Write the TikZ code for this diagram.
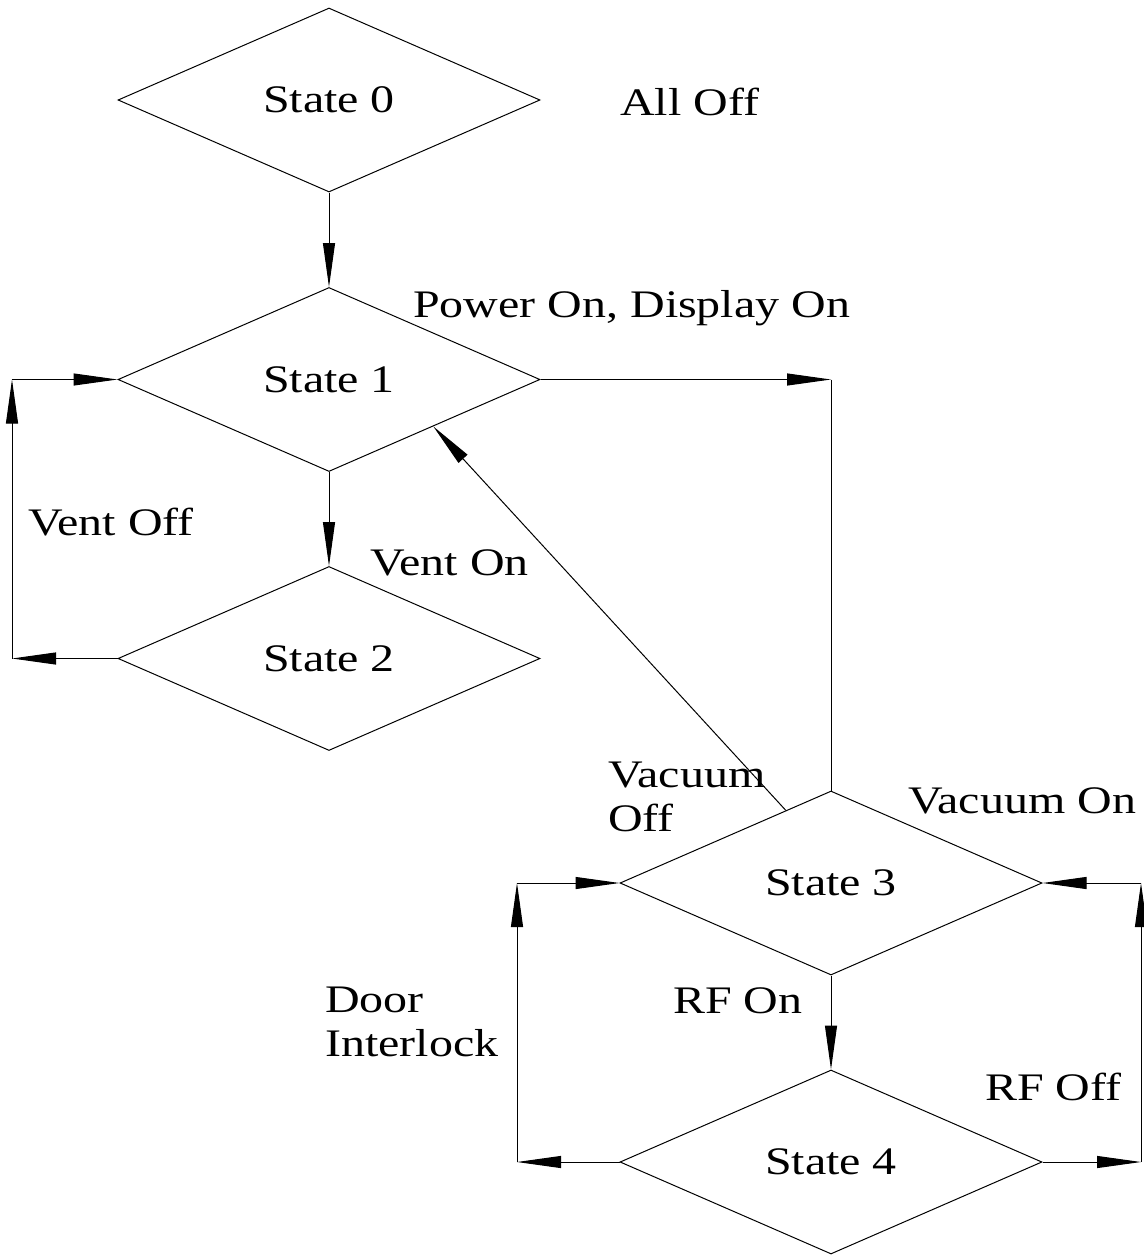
\documentclass[tikz,border=0pt]{standalone}
\usepackage{fontspec}
\setmainfont{Liberation Serif}[FakeStretch=1.23]
\usetikzlibrary{shapes.geometric,arrows.meta,calc}
\begin{document}
\begin{tikzpicture}[x=1pt,y=-1pt,
  txt/.style={font=\fontsize{39}{44}\selectfont},
  state/.style={diamond, draw, line width=1pt, minimum width=422pt, minimum height=184pt, inner sep=0pt, txt},
  lbl/.style={inner sep=0pt, txt, anchor=base west},
  lbltwo/.style={inner sep=0pt, txt, anchor=north west, align=left},
  conn/.style={line width=1pt},
  arr/.style={conn, -{Triangle[length=44pt,width=12pt]}}]
\useasboundingbox (0,0) rectangle (1143,1255);
% states
\node[state] (s0) at (329,100) {State 0};
\node[state] (s1) at (329,379.5) {State 1};
\node[state] (s2) at (329,658.5) {State 2};
\node[state] (s3) at (831,883) {State 3};
\node[state] (s4) at (831,1162) {State 4};
% corner points
\coordinate (c1) at (s1.east -| s3.north);
\coordinate (c2) at (12,379.5);
\coordinate (c3) at (12,658.5);
\coordinate (c4) at (517,883);
\coordinate (c5) at (517,1162);
\coordinate (c6) at (1141,883);
\coordinate (c7) at (1141,1162);
\coordinate (d3) at ($(s3.west)!0.786!(s3.north)$);
\coordinate (d1) at ($(s1.east)!0.507!(s1.south)$);
% connectors
\draw[arr] (s0.south) -- (s1.north);
\draw[arr] (s1.east) -- (c1);
\draw[conn] (c1) -- (s3.north);
\draw[arr] (s1.south) -- (s2.north);
\draw[arr] (s2.west) -- (c3);
\draw[arr] (c3) -- (c2);
\draw[arr] (c2) -- (s1.west);
\draw[arr] (d3) -- (d1);
\draw[arr] (s3.south) -- (s4.north);
\draw[arr] (s4.west) -- (c5);
\draw[arr] (c5) -- (c4);
\draw[arr] (c4) -- (s3.west);
\draw[arr] (s4.east) -- (c7);
\draw[arr] (c7) -- (c6);
\draw[arr] (c6) -- (s3.east);
% labels
\node[lbl] (l0) at (620,115) {All Off};
\node[lbl] (l1) at (413,317) {Power On, Display On};
\node[lbl] (l2) at (28,535) {Vent Off};
\node[lbl] (l3) at (370,575) {Vent On};
\node[lbltwo] (l4) at (608,762) {Vacuum\\Off};
\node[lbl] (l5) at (908,813) {Vacuum On};
\node[lbltwo] (l6) at (325,987) {Door\\Interlock};
\node[lbl] (l7) at (673,1013) {RF On};
\node[lbl] (l8) at (985,1100) {RF Off};
\end{tikzpicture}
\end{document}
